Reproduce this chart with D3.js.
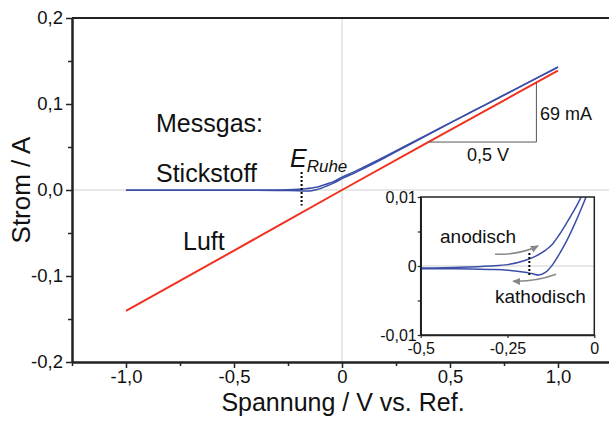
<!DOCTYPE html>
<html>
<head>
<meta charset="utf-8">
<script src="https://cdn.jsdelivr.net/npm/d3@7"></script>
<style>
  body { margin: 0; background: #fff; }
  svg { font-family: "Liberation Sans", Arial, sans-serif; }
</style>
</head>
<body>
<div id="chart"></div>
<script>
// Luft (air): linear response
var luftV = [-1.0, -0.5, 0.0, 0.5, 1.0];
var luftI = [-0.1405, -0.0705, 0.0, 0.0695, 0.1388];

// Stickstoff (nitrogen), anodic scan
var anodV = [-1.0, -0.8, -0.6, -0.5, -0.4, -0.3, -0.25, -0.2, -0.17, -0.14, -0.12, -0.1, -0.08, -0.06, -0.04, -0.02, 0.0, 0.05, 0.1, 0.2, 0.3, 0.4, 0.5, 0.6, 0.7, 0.8, 0.9, 1.0];
var anodI = [-0.0004, -0.0004, -0.0003, -0.0003, -0.0002, 0.0, 0.0002, 0.0008, 0.0014, 0.0023, 0.0032, 0.0046, 0.0062, 0.0079, 0.0098, 0.0122, 0.0150, 0.0205, 0.0265, 0.0390, 0.0520, 0.0650, 0.0780, 0.0910, 0.1040, 0.1170, 0.1300, 0.1430];

// Stickstoff, cathodic scan
var kathV = [-1.0, -0.8, -0.6, -0.5, -0.4, -0.3, -0.25, -0.2, -0.18, -0.16, -0.14, -0.12, -0.1, -0.08, -0.06, -0.04, -0.02, 0.0, 0.05, 0.1, 0.2, 0.3, 0.4, 0.5, 0.6, 0.7, 0.8, 0.9, 1.0];
var kathI = [-0.0004, -0.0004, -0.0004, -0.0004, -0.0004, -0.0005, -0.0006, -0.0009, -0.0011, -0.0013, -0.0009, 0.0002, 0.0018, 0.0036, 0.0057, 0.0080, 0.0105, 0.0133, 0.0188, 0.0250, 0.0378, 0.0512, 0.0645, 0.0777, 0.0908, 0.1038, 0.1168, 0.1298, 0.1428];

// tick values and labels
var mainXTicks = [-1.0, -0.5, 0.0, 0.5, 1.0];
var mainXLabels = ["-1,0", "-0,5", "0", "0,5", "1,0"];
var mainXMinor = [-1.25, -0.75, -0.25, 0.25, 0.75];
var mainYTicks = [-0.2, -0.1, 0.0, 0.1, 0.2];
var mainYLabels = ["-0,2", "-0,1", "0,0", "0,1", "0,2"];
var mainYMinor = [-0.15, -0.05, 0.05, 0.15];
var insetXTicks = [-0.5, -0.25, 0.0];
var insetXLabels = ["-0,5", "-0,25", "0"];
var insetYTicks = [-0.01, 0.0, 0.01];
var insetYLabels = ["-0,01", "0", "0,01"];
var insetYMinor = [-0.005, 0.005];

// annotations (data units)
var eRuheV = -0.187;
var slopeV0 = 0.40, slopeDV = 0.5, slopeDI = 0.069;

var W = 609, H = 423;
var BLUE = "#3a4ea8", RED = "#f2301e", GRID = "#d0d0d0", AXIS = "#222";

var svg = d3.select('#chart').append('svg').attr('width', W).attr('height', H);

var x = d3.scaleLinear().domain([-1.25, 1.25]).range([72, 612]);
var y = d3.scaleLinear().domain([-0.2, 0.2]).range([362, 18]);

function zip(a, b) { return a.map(function(v, i) { return [v, b[i]]; }); }
function labelFrom(ticks, labels) { return function(d) { return labels[ticks.indexOf(d)]; }; }

// grid lines through origin
svg.append('line').attr('x1', x(0)).attr('x2', x(0)).attr('y1', y(0.2)).attr('y2', y(-0.2)).attr('stroke', GRID).attr('stroke-width', 1);
svg.append('line').attr('x1', x(-1.25)).attr('x2', W).attr('y1', y(0)).attr('y2', y(0)).attr('stroke', GRID).attr('stroke-width', 1);

// curves
var line = d3.line().x(function(d) { return x(d[0]); }).y(function(d) { return y(d[1]); }).curve(d3.curveMonotoneX);
svg.append('path').datum(zip(luftV, luftI)).attr('d', line).attr('fill', 'none').attr('stroke', RED).attr('stroke-width', 2);
svg.append('path').datum(zip(kathV, kathI)).attr('d', line).attr('fill', 'none').attr('stroke', BLUE).attr('stroke-width', 1.5);
svg.append('path').datum(zip(anodV, anodI)).attr('d', line).attr('fill', 'none').attr('stroke', BLUE).attr('stroke-width', 1.5);

// axes
svg.append('g').attr('transform', 'translate(0,' + y(-0.2) + ')')
  .call(d3.axisBottom(x).tickValues(mainXTicks).tickFormat(labelFrom(mainXTicks, mainXLabels)).tickSize(6).tickSizeOuter(0).tickPadding(2));
svg.append('g').attr('transform', 'translate(0,' + y(-0.2) + ')')
  .call(d3.axisBottom(x).tickValues(mainXMinor).tickFormat('').tickSize(4).tickSizeOuter(0));
svg.append('g').attr('transform', 'translate(' + x(-1.25) + ',0)')
  .call(d3.axisLeft(y).tickValues(mainYTicks).tickFormat(labelFrom(mainYTicks, mainYLabels)).tickSize(6).tickSizeOuter(0).tickPadding(3));
svg.append('g').attr('transform', 'translate(' + x(-1.25) + ',0)')
  .call(d3.axisLeft(y).tickValues(mainYMinor).tickFormat('').tickSize(4).tickSizeOuter(0));
// top frame line
svg.append('line').attr('x1', x(-1.25)).attr('x2', W).attr('y1', y(0.2)).attr('y2', y(0.2)).attr('stroke', AXIS).attr('stroke-width', 2);

svg.selectAll('.domain').attr('stroke', AXIS).attr('stroke-width', 2);
svg.selectAll('.tick line').attr('stroke', AXIS).attr('stroke-width', 1.5);
svg.selectAll('.tick text').style('font-size', '18.5px').style('font-family', '"Liberation Sans", Arial, sans-serif').attr('fill', '#111');

// axis titles
svg.append('text').attr('x', 343).attr('y', 411).attr('text-anchor', 'middle').style('font-size', '25px').attr('fill', '#111').text('Spannung / V vs. Ref.');
svg.append('text').attr('transform', 'translate(30,190) rotate(-90)').attr('text-anchor', 'middle').style('font-size', '26px').attr('fill', '#111').text('Strom / A');

// labels
svg.append('text').attr('x', 156).attr('y', 132).style('font-size', '25px').attr('fill', '#111').text('Messgas:');
svg.append('text').attr('x', 156).attr('y', 182).style('font-size', '25px').attr('fill', '#111').text('Stickstoff');
svg.append('text').attr('x', 183).attr('y', 250).style('font-size', '25px').attr('fill', '#111').text('Luft');

// E_Ruhe
svg.append('line').attr('x1', x(eRuheV)).attr('x2', x(eRuheV)).attr('y1', y(0.021)).attr('y2', y(-0.018))
  .attr('stroke', '#000').attr('stroke-width', 2).attr('stroke-dasharray', '2,2');
var er = svg.append('text').attr('x', 290).attr('y', 167).attr('fill', '#111').style('font-style', 'italic');
er.append('tspan').style('font-size', '25px').text('E');
er.append('tspan').attr('dy', 5).style('font-size', '17px').text('Ruhe');

// slope triangle
var i0 = 0.1394 * slopeV0;
svg.append('path')
  .attr('d', 'M' + x(slopeV0) + ',' + y(i0) + 'H' + x(slopeV0 + slopeDV) + 'V' + y(i0 + slopeDI))
  .attr('fill', 'none').attr('stroke', '#555').attr('stroke-width', 1);
svg.append('text').attr('x', 540).attr('y', 120).style('font-size', '18px').attr('fill', '#111').text('69 mA');
svg.append('text').attr('x', 467).attr('y', 161).style('font-size', '18px').attr('fill', '#111').text('0,5 V');

// ---------------- inset ----------------
var ix = d3.scaleLinear().domain([-0.5, 0]).range([420.7, 594.3]);
var iy = d3.scaleLinear().domain([-0.01, 0.01]).range([335, 197]);

var inset = svg.append('g').attr('class', 'inset');
inset.append('rect').attr('x', ix(-0.5)).attr('y', iy(0.01)).attr('width', ix(0) - ix(-0.5)).attr('height', iy(-0.01) - iy(0.01)).attr('fill', '#fff');
svg.append('clipPath').attr('id', 'iclip').append('rect')
  .attr('x', ix(-0.5)).attr('y', iy(0.01)).attr('width', ix(0) - ix(-0.5)).attr('height', iy(-0.01) - iy(0.01));

inset.append('line').attr('x1', ix(-0.5)).attr('x2', ix(0)).attr('y1', iy(0)).attr('y2', iy(0)).attr('stroke', GRID).attr('stroke-width', 1);

var iline = d3.line().x(function(d) { return ix(d[0]); }).y(function(d) { return iy(d[1]); }).curve(d3.curveMonotoneX);
var curves = inset.append('g').attr('clip-path', 'url(#iclip)');
curves.append('path').datum(zip(anodV, anodI)).attr('d', iline).attr('fill', 'none').attr('stroke', BLUE).attr('stroke-width', 1.5);
curves.append('path').datum(zip(kathV, kathI)).attr('d', iline).attr('fill', 'none').attr('stroke', BLUE).attr('stroke-width', 1.5);

inset.append('line').attr('x1', ix(eRuheV)).attr('x2', ix(eRuheV)).attr('y1', iy(0.0019)).attr('y2', iy(-0.0015))
  .attr('stroke', '#000').attr('stroke-width', 2).attr('stroke-dasharray', '2,2');

// arrows
var defs = svg.append('defs');
defs.append('marker').attr('id', 'ah').attr('viewBox', '0 0 10 10').attr('refX', 8).attr('refY', 5)
  .attr('markerWidth', 6).attr('markerHeight', 6).attr('orient', 'auto')
  .append('path').attr('d', 'M0,1L9,5L0,9Z').attr('fill', '#888');
inset.append('path')
  .attr('d', 'M' + ix(-0.286) + ',' + iy(0.0017) + 'Q' + ix(-0.215) + ',' + iy(0.0016) + ' ' + ix(-0.162) + ',' + iy(0.0029))
  .attr('fill', 'none').attr('stroke', '#888').attr('stroke-width', 1.5).attr('marker-end', 'url(#ah)');
inset.append('path')
  .attr('d', 'M' + ix(-0.11) + ',' + iy(-0.0012) + 'Q' + ix(-0.17) + ',' + iy(-0.0023) + ' ' + ix(-0.234) + ',' + iy(-0.0022))
  .attr('fill', 'none').attr('stroke', '#888').attr('stroke-width', 1.5).attr('marker-end', 'url(#ah)');

inset.append('text').attr('x', 440).attr('y', 243).style('font-size', '19px').attr('fill', '#111').text('anodisch');
inset.append('text').attr('x', 495).attr('y', 303).style('font-size', '19px').attr('fill', '#111').text('kathodisch');

// inset frame and axes
inset.append('rect').attr('x', ix(-0.5)).attr('y', iy(0.01)).attr('width', ix(0) - ix(-0.5)).attr('height', iy(-0.01) - iy(0.01))
  .attr('fill', 'none').attr('stroke', AXIS).attr('stroke-width', 1.5);
inset.append('g').attr('transform', 'translate(0,' + iy(-0.01) + ')')
  .call(d3.axisBottom(ix).tickValues(insetXTicks).tickFormat(labelFrom(insetXTicks, insetXLabels)).tickSize(3).tickSizeOuter(0).tickPadding(5));
inset.append('g').attr('transform', 'translate(' + ix(-0.5) + ',0)')
  .call(d3.axisLeft(iy).tickValues(insetYTicks).tickFormat(labelFrom(insetYTicks, insetYLabels)).tickSize(3).tickSizeOuter(0).tickPadding(1));
inset.append('g').attr('transform', 'translate(' + ix(-0.5) + ',0)')
  .call(d3.axisLeft(iy).tickValues(insetYMinor).tickFormat('').tickSize(3).tickSizeOuter(0));
inset.selectAll('.domain').attr('stroke', AXIS).attr('stroke-width', 1.5);
inset.selectAll('.tick line').attr('stroke', AXIS).attr('stroke-width', 1.2);
inset.selectAll('.tick text').style('font-size', '16px').style('font-family', '"Liberation Sans", Arial, sans-serif').attr('fill', '#111');
</script>
</body>
</html>
